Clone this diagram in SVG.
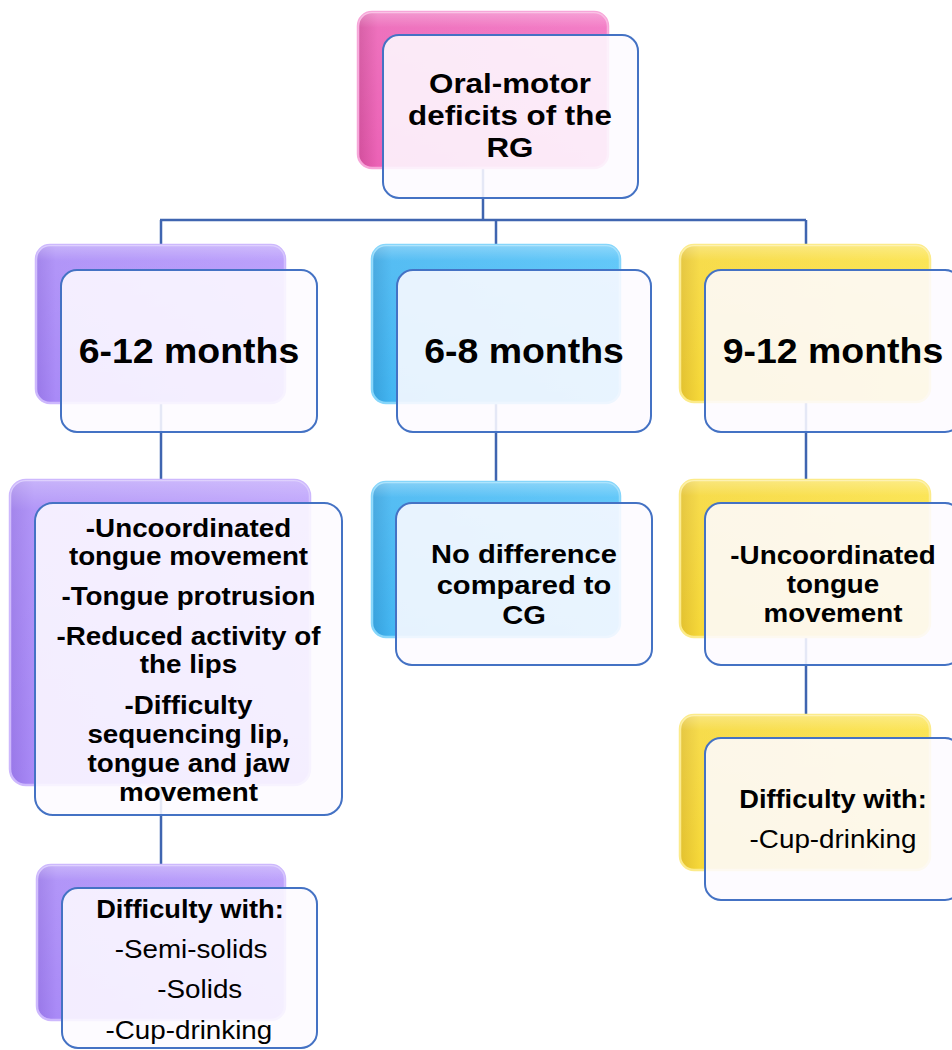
<svg xmlns="http://www.w3.org/2000/svg" width="952" height="1050" viewBox="0 0 952 1050">
<style>
.conn{fill:none;stroke:#3F65B0;stroke-width:2.5}
.front{fill:#FDFBFF;fill-opacity:0.88;stroke:#4472C4;stroke-width:2}
.b{font-family:"Liberation Sans",Arial,sans-serif;font-weight:bold;fill:#000;text-anchor:middle}
.r{font-family:"Liberation Sans",Arial,sans-serif;font-weight:normal;fill:#000;text-anchor:middle}
</style>
<defs>
<linearGradient id="gPink" x1="0" y1="0" x2="1" y2="0">
<stop offset="0" stop-color="#D24E9C"/><stop offset="0.08" stop-color="#EC62B6"/><stop offset="1" stop-color="#F270C1"/>
</linearGradient>
<linearGradient id="gPurple" x1="0" y1="0" x2="1" y2="0">
<stop offset="0" stop-color="#9877E8"/><stop offset="0.08" stop-color="#A98AF7"/><stop offset="1" stop-color="#B597FB"/>
</linearGradient>
<linearGradient id="gBlue" x1="0" y1="0" x2="1" y2="0">
<stop offset="0" stop-color="#36A0DC"/><stop offset="0.08" stop-color="#43B6F2"/><stop offset="1" stop-color="#52C2F8"/>
</linearGradient>
<linearGradient id="gYellow" x1="0" y1="0" x2="1" y2="0">
<stop offset="0" stop-color="#E2C02E"/><stop offset="0.08" stop-color="#F6D838"/><stop offset="1" stop-color="#FBE245"/>
</linearGradient>
<linearGradient id="gTop" x1="0" y1="0" x2="0" y2="1">
<stop offset="0" stop-color="#FFFFFF" stop-opacity="0.35"/><stop offset="0.1" stop-color="#FFFFFF" stop-opacity="0.1"/><stop offset="1" stop-color="#FFFFFF" stop-opacity="0"/>
</linearGradient>
</defs>

<g id="connectors">
<path class="conn" d="M483 150 V220"/>
<path class="conn" d="M160 220 H806"/>
<path class="conn" d="M161 220 V865"/>
<path class="conn" d="M496 220 V503"/>
<path class="conn" d="M806 220 V715"/>
</g>

<g id="node-root">
<rect x="358" y="12" width="250" height="156" rx="14" fill="url(#gPink)" stroke="#F7A6D9" stroke-width="2.5"/>
<rect x="358" y="12" width="250" height="156" rx="14" fill="url(#gTop)"/>
<rect class="front" x="383" y="35" width="255" height="163" rx="16"/>
<g transform="translate(510 0) scale(1.12 1) translate(-510 0)">
<text class="b" x="510" y="93" font-size="28">Oral-motor</text>
<text class="b" x="510" y="125" font-size="28">deficits of the</text>
<text class="b" x="510" y="157" font-size="28">RG</text>
</g>
</g>

<g id="node-6-12">
<rect x="36" y="245" width="249" height="158" rx="14" fill="url(#gPurple)" stroke="#CDB8FD" stroke-width="2.5"/>
<rect x="36" y="245" width="249" height="158" rx="14" fill="url(#gTop)"/>
<rect class="front" x="61" y="270" width="256" height="162" rx="16"/>
<g transform="translate(189 0) scale(1.07 1) translate(-189 0)">
<text class="b" x="189" y="363" font-size="35">6-12 months</text>
</g>
</g>

<g id="node-6-8">
<rect x="372" y="245" width="248" height="158" rx="14" fill="url(#gBlue)" stroke="#86D6FB" stroke-width="2.5"/>
<rect x="372" y="245" width="248" height="158" rx="14" fill="url(#gTop)"/>
<rect class="front" x="397" y="270" width="254" height="162" rx="16"/>
<g transform="translate(524 0) scale(1.07 1) translate(-524 0)">
<text class="b" x="524" y="363" font-size="35">6-8 months</text>
</g>
</g>

<g id="node-9-12">
<rect x="680" y="245" width="250" height="157" rx="14" fill="url(#gYellow)" stroke="#FCEB8A" stroke-width="2.5"/>
<rect x="680" y="245" width="250" height="157" rx="14" fill="url(#gTop)"/>
<rect class="front" x="705" y="270" width="256" height="162" rx="16"/>
<g transform="translate(833 0) scale(1.07 1) translate(-833 0)">
<text class="b" x="833" y="363" font-size="35">9-12 months</text>
</g>
</g>

<g id="node-left-deficits">
<rect x="10" y="480" width="300" height="305" rx="16" fill="url(#gPurple)" stroke="#CDB8FD" stroke-width="2.5"/>
<rect x="10" y="480" width="300" height="305" rx="16" fill="url(#gTop)"/>
<rect class="front" x="35" y="503" width="307" height="312" rx="18"/>
<g transform="translate(188.5 0) scale(1.09 1) translate(-188.5 0)">
<text class="b" x="188.5" y="537" font-size="25.5">-Uncoordinated</text>
<text class="b" x="188.5" y="565" font-size="25.5">tongue movement</text>
<text class="b" x="188.5" y="605" font-size="25.5">-Tongue protrusion</text>
<text class="b" x="188.5" y="645" font-size="25.5">-Reduced activity of</text>
<text class="b" x="188.5" y="673" font-size="25.5">the lips</text>
<text class="b" x="188.5" y="714" font-size="25.5">-Difficulty</text>
<text class="b" x="188.5" y="743" font-size="25.5">sequencing lip,</text>
<text class="b" x="188.5" y="772" font-size="25.5">tongue and jaw</text>
<text class="b" x="188.5" y="801" font-size="25.5">movement</text>
</g>
</g>

<g id="node-mid-nodiff">
<rect x="372" y="482" width="248" height="155" rx="14" fill="url(#gBlue)" stroke="#86D6FB" stroke-width="2.5"/>
<rect x="372" y="482" width="248" height="155" rx="14" fill="url(#gTop)"/>
<rect class="front" x="396" y="503" width="256" height="162" rx="16"/>
<g transform="translate(524 0) scale(1.12 1) translate(-524 0)">
<text class="b" x="524" y="563" font-size="26">No difference</text>
<text class="b" x="524" y="594" font-size="26">compared to</text>
<text class="b" x="524" y="624" font-size="26">CG</text>
</g>
</g>

<g id="node-right-deficits">
<rect x="680" y="480" width="250" height="157" rx="14" fill="url(#gYellow)" stroke="#FCEB8A" stroke-width="2.5"/>
<rect x="680" y="480" width="250" height="157" rx="14" fill="url(#gTop)"/>
<rect class="front" x="705" y="503" width="256" height="162" rx="16"/>
<g transform="translate(833 0) scale(1.09 1) translate(-833 0)">
<text class="b" x="833" y="564" font-size="25.5">-Uncoordinated</text>
<text class="b" x="833" y="593" font-size="25.5">tongue</text>
<text class="b" x="833" y="622" font-size="25.5">movement</text>
</g>
</g>

<g id="node-left-difficulty">
<rect x="37" y="865" width="248" height="155" rx="14" fill="url(#gPurple)" stroke="#CDB8FD" stroke-width="2.5"/>
<rect x="37" y="865" width="248" height="155" rx="14" fill="url(#gTop)"/>
<rect class="front" x="62" y="888" width="255" height="160" rx="16"/>
<g transform="translate(190 0) scale(1.09 1) translate(-190 0)">
<text class="b" x="190" y="918" font-size="25">Difficulty with:</text>
<text class="r" x="191" y="958" font-size="25.5">-Semi-solids</text>
<text class="r" x="199" y="998" font-size="25.5">-Solids</text>
<text class="r" x="189" y="1039" font-size="25.5">-Cup-drinking</text>
</g>
</g>

<g id="node-right-difficulty">
<rect x="680" y="715" width="250" height="155" rx="14" fill="url(#gYellow)" stroke="#FCEB8A" stroke-width="2.5"/>
<rect x="680" y="715" width="250" height="155" rx="14" fill="url(#gTop)"/>
<rect class="front" x="705" y="738" width="256" height="162" rx="16"/>
<g transform="translate(833 0) scale(1.09 1) translate(-833 0)">
<text class="b" x="833" y="808" font-size="25">Difficulty with:</text>
<text class="r" x="833" y="848" font-size="25.5">-Cup-drinking</text>
</g>
</g>
</svg>
